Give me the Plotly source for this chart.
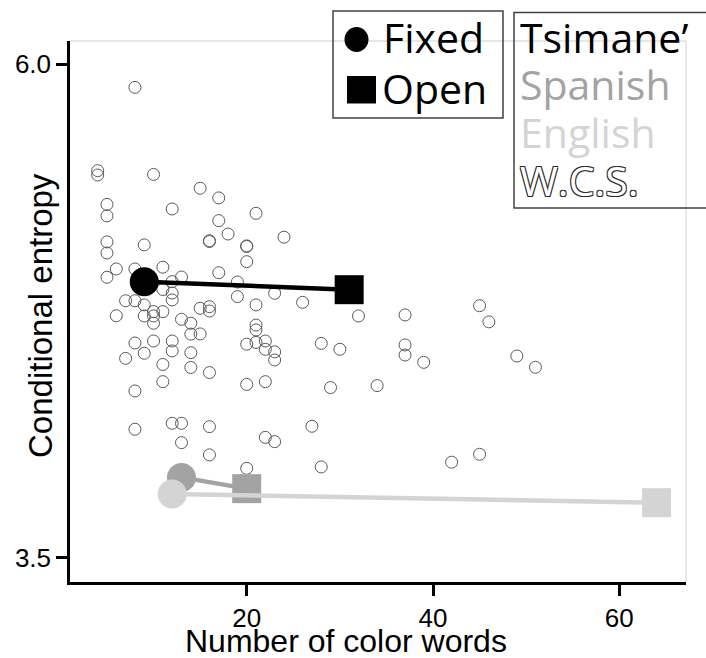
import plotly.graph_objects as go

# World Color Survey languages: number of color words vs. conditional entropy
wcs_words = [8, 4, 4, 10, 15, 17, 5, 5, 12, 21, 17, 18, 5, 5, 9, 16, 16, 20, 20, 24,
             20, 6, 8, 11, 5, 13, 12, 17, 19, 11, 12, 12, 7, 8, 19, 23, 26, 21, 9, 6,
             9, 10, 10, 10, 11, 13, 14, 15, 16, 16, 21, 21, 32, 37, 45, 46, 8, 9, 10, 12,
             12, 7, 11, 14, 15, 14, 14, 16, 11, 8, 20, 21, 22, 22, 23, 23, 20, 22, 28, 30,
             29, 37, 37, 39, 49, 51, 34, 8, 12, 13, 16, 13, 16, 22, 23, 27, 20, 28, 42, 45]
wcs_entropy = [5.883, 5.461, 5.439, 5.442, 5.372, 5.323, 5.290, 5.232, 5.267, 5.245,
               5.208, 5.140, 5.100, 5.044, 5.085, 5.106, 5.102, 5.080, 5.077, 5.124,
               5.000, 4.963, 4.963, 4.972, 4.921, 4.922, 4.899, 4.944, 4.897, 4.859,
               4.841, 4.806, 4.802, 4.802, 4.823, 4.840, 4.794, 4.781, 4.781, 4.726,
               4.725, 4.747, 4.725, 4.688, 4.747, 4.708, 4.688, 4.764, 4.772, 4.750,
               4.679, 4.654, 4.725, 4.730, 4.777, 4.695, 4.588, 4.536, 4.598, 4.598,
               4.548, 4.510, 4.479, 4.633, 4.634, 4.539, 4.464, 4.438, 4.392, 4.345,
               4.582, 4.591, 4.598, 4.556, 4.543, 4.502, 4.378, 4.392, 4.586, 4.556,
               4.362, 4.578, 4.527, 4.490, 4.522, 4.465, 4.372, 4.151, 4.181, 4.181,
               4.164, 4.083, 4.021, 4.110, 4.088, 4.166, 3.953, 3.960, 3.984, 4.024]

# Fixed-task vs open-task summaries per language group
groups = ["Tsimane'", "Spanish", "English"]
group_colors = ["#000000", "#a3a3a3", "#d4d4d4"]
fixed_words = [9, 13, 12]
fixed_entropy = [4.898, 3.907, 3.823]
open_words = [31, 20, 64]
open_entropy = [4.858, 3.850, 3.779]

x_ticks = [20, 40, 60]
y_ticks = [3.5, 6.0]
y_tick_text = ["3.5", "6.0"]

W, H = 706, 658
L, R, T, B = 70, 20, 41, 76
PW, PH = W - L - R, H - T - B


def px(x):
    return (x - L) / PW


def py(y):
    return (H - B - y) / PH


fig = go.Figure()

fig.add_trace(go.Scatter(
    x=wcs_words, y=wcs_entropy, mode="markers",
    marker=dict(symbol="circle", size=12, color="rgba(0,0,0,0)",
                line=dict(color="#5a5a5a", width=1)),
    showlegend=False, hoverinfo="x+y"))

# draw Spanish, then English, then Tsimane' on top
for i in [1, 2, 0]:
    fig.add_trace(go.Scatter(
        x=[fixed_words[i], open_words[i]], y=[fixed_entropy[i], open_entropy[i]],
        mode="lines", line=dict(color=group_colors[i], width=4.5),
        showlegend=False, name=groups[i]))
    fig.add_trace(go.Scatter(
        x=[fixed_words[i]], y=[fixed_entropy[i]], mode="markers",
        marker=dict(symbol="circle", size=29, color=group_colors[i], line=dict(width=0)),
        showlegend=False, name=groups[i] + " fixed"))
    fig.add_trace(go.Scatter(
        x=[open_words[i]], y=[open_entropy[i]], mode="markers",
        marker=dict(symbol="square", size=29, color=group_colors[i], line=dict(width=0)),
        showlegend=False, name=groups[i] + " open"))

axis_font = dict(family="Liberation Sans, Arial, sans-serif", size=26, color="#000")

fig.update_xaxes(range=[1.03, 67.16], tickvals=x_ticks, showgrid=False, zeroline=False,
                 showline=True, linecolor="#000", linewidth=2.5,
                 ticks="outside", ticklen=11, tickwidth=2.5, tickcolor="#000",
                 tickfont=axis_font)
fig.update_yaxes(range=[3.377, 6.118], tickvals=y_ticks, ticktext=y_tick_text,
                 showgrid=False, zeroline=False,
                 showline=True, linecolor="#000", linewidth=2.5,
                 ticks="outside", ticklen=11, tickwidth=2.5, tickcolor="#000",
                 tickfont=axis_font)

shapes = [
    # light frame on top and right
    dict(type="line", xref="paper", yref="paper", x0=0, x1=1, y0=1, y1=1,
         line=dict(color="#cfcfcf", width=1)),
    dict(type="line", xref="paper", yref="paper", x0=1, x1=1, y0=0, y1=1,
         line=dict(color="#cfcfcf", width=1)),
    # key boxes
    dict(type="rect", xref="paper", yref="paper", x0=px(333), x1=px(503),
         y0=py(118), y1=py(11), line=dict(color="#404040", width=1.5)),
    dict(type="rect", xref="paper", yref="paper", x0=px(514), x1=px(712),
         y0=py(208), y1=py(12.5), line=dict(color="#404040", width=1.5)),
    # key symbols
    dict(type="circle", xref="paper", yref="paper", x0=px(344.5), x1=px(368.5),
         y0=py(52), y1=py(27), fillcolor="#000", line=dict(width=0)),
    dict(type="rect", xref="paper", yref="paper", x0=px(347), x1=px(376),
         y0=py(103.5), y1=py(76), fillcolor="#000", line=dict(width=0)),
]

key_family = "Open Sans, sans-serif"
key_size = 41


def key_text(text, x, y, color, **extra):
    font = dict(family=key_family, size=key_size, color=color)
    font.update(extra)
    return dict(text=text, xref="paper", yref="paper", x=px(x), y=py(y),
                xanchor="left", yanchor="middle", showarrow=False, font=font)


annotations = [
    key_text("Fixed", 381, 37, "#000"),
    key_text("Open", 380, 88, "#000"),
    key_text("Tsimane’", 518, 37, "#000"),
    key_text("Spanish", 518, 84, "#a3a3a3"),
    key_text("English", 518, 132, "#d4d4d4"),
    key_text("W.C.S.", 518, 180, "#ffffff",
             shadow="-1px -1px 0 #2a2a2a, 1px -1px 0 #2a2a2a, -1px 1px 0 #2a2a2a, 1px 1px 0 #2a2a2a"),
    dict(text="Number of color words", xref="paper", yref="paper", x=px(346), y=py(641),
         xanchor="center", yanchor="middle", showarrow=False,
         font=dict(family="Liberation Sans, Arial, sans-serif", size=32, color="#000")),
    dict(text="Conditional entropy", xref="paper", yref="paper", x=px(40), y=py(316),
         xanchor="center", yanchor="middle", textangle=-90, showarrow=False,
         font=dict(family="Liberation Sans, Arial, sans-serif", size=33, color="#000")),
]

fig.update_layout(
    width=W, height=H, margin=dict(l=L, r=R, t=T, b=B, pad=0),
    paper_bgcolor="#ffffff", plot_bgcolor="#ffffff",
    shapes=shapes, annotations=annotations, showlegend=False,
)

fig.write_html("out.html")
